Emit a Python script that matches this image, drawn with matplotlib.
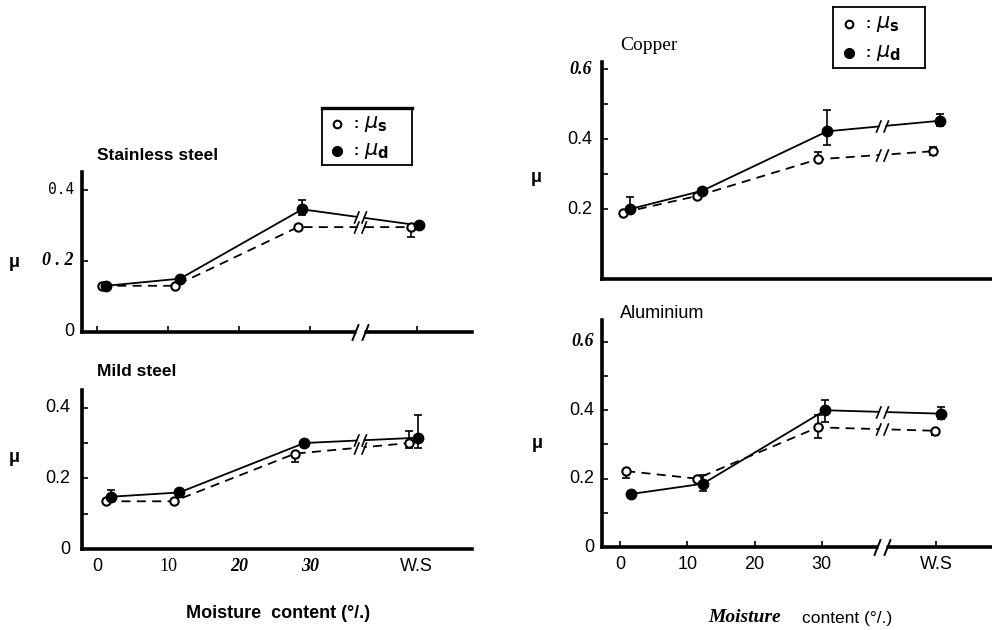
import numpy as np
import matplotlib
matplotlib.use("Agg")
import matplotlib.pyplot as plt
from matplotlib.path import Path

# ---------------- data ----------------
# Stainless steel  (W.S column drawn at x = 45)
ss_x_s  = [0.7, 11.0, 28.3, 44.2]
ss_mu_s = [0.130, 0.130, 0.295, 0.295]
ss_s_lo = [0, 0, 0, 0.028]
ss_s_hi = [0, 0, 0, 0]
ss_x_d  = [1.3, 11.7, 28.9, 45.3]
ss_mu_d = [0.130, 0.150, 0.345, 0.300]
ss_d_lo = [0, 0, 0.015, 0]
ss_d_hi = [0, 0, 0.025, 0]

# Mild steel  (W.S column at x = 45)
ms_x_s  = [1.3, 10.8, 27.9, 44.0]
ms_mu_s = [0.135, 0.135, 0.270, 0.300]
ms_s_lo = [0, 0, 0.023, 0.015]
ms_s_hi = [0, 0, 0, 0.035]
ms_x_d  = [2.0, 11.6, 29.2, 45.2]
ms_mu_d = [0.148, 0.160, 0.300, 0.315]
ms_d_lo = [0.010, 0, 0, 0.030]
ms_d_hi = [0.020, 0, 0, 0.065]

# Copper  (W.S column at x = 47)
cu_x_s  = [0.4, 11.4, 29.4, 46.5]
cu_mu_s = [0.190, 0.237, 0.342, 0.365]
cu_s_lo = [0, 0, 0, 0.010]
cu_s_hi = [0, 0, 0.022, 0.012]
cu_x_d  = [1.5, 12.2, 30.8, 47.5]
cu_mu_d = [0.200, 0.252, 0.422, 0.452]
cu_d_lo = [0, 0, 0.040, 0.015]
cu_d_hi = [0.035, 0, 0.060, 0.020]

# Aluminium  (W.S column at x = 47)
al_x_s  = [0.9, 11.4, 29.4, 46.8]
al_mu_s = [0.222, 0.200, 0.350, 0.340]
al_s_lo = [0.020, 0, 0.032, 0.012]
al_s_hi = [0, 0, 0.035, 0]
al_x_d  = [1.6, 12.3, 30.5, 47.7]
al_mu_d = [0.155, 0.185, 0.400, 0.390]
al_d_lo = [0, 0.022, 0.035, 0.015]
al_d_hi = [0, 0.025, 0.030, 0.020]

x_ticks_left  = [0, 10, 20, 30, 45]
x_ticks_right = [0, 10, 20, 30, 47]
x_ticklabels  = ["0", "10", "20", "30", "W.S"]

# ---------------- layout helpers ----------------
W, H = 992, 630
fig = plt.figure(figsize=(W / 100, H / 100), dpi=100)
fig.patch.set_facecolor("white")
plt.rcParams["mathtext.fontset"] = "dejavusans"

def rect(l, t, r, b):
    return [l / W, 1 - b / H, (r - l) / W, (b - t) / H]

SANS = dict(family="Liberation Sans")
SANS_B = dict(family="Liberation Sans", weight="bold")
SERIF = dict(family="Liberation Serif")
SERIF_BI = dict(family="Liberation Serif", style="italic", weight="bold")
MONO = dict(family="DejaVu Sans Mono")

BREAK = Path([(-1.0, -1.0), (-0.2, 1.0), (0.2, -1.0), (1.0, 1.0)],
             [Path.MOVETO, Path.LINETO, Path.MOVETO, Path.LINETO])

def style_axes(ax, xlim, ylim):
    ax.set_xlim(*xlim)
    ax.set_ylim(*ylim)
    for s in ("top", "right"):
        ax.spines[s].set_visible(False)
    for s in ("left", "bottom"):
        ax.spines[s].set_linewidth(2.6)
    ax.set_facecolor("none")
    ax.tick_params(which="both", direction="in", length=4, width=1.2,
                   labelleft=False, labelbottom=False)

def brk(ax, xb, xs, ys):
    yb = np.interp(xb, xs, ys)
    ax.plot([xb], [yb], marker="s", ms=5, mfc="white", mec="none", zorder=4)
    ax.plot([xb], [yb], marker=BREAK, ms=9, mec="black", mew=1.2, zorder=5)

def axis_break(ax, xb):
    ax.plot([xb], [0], marker="s", ms=6, mfc="white", mec="none",
            zorder=6, clip_on=False)
    ax.plot([xb], [0], marker=BREAK, ms=12, mec="black", mew=1.4,
            zorder=7, clip_on=False)

def series(ax, xs, ys, lo, hi, x_break, filled):
    ls = "-" if filled else (0, (5, 3.5))
    ax.plot(xs, ys, color="black", lw=1.3, ls=ls, zorder=2)
    lo = np.array(lo, float)
    hi = np.array(hi, float)
    m = (lo + hi) > 0
    ax.errorbar(np.array(xs)[m], np.array(ys)[m], yerr=[lo[m], hi[m]],
                fmt="none", ecolor="black", elinewidth=1.2, capsize=3,
                capthick=1.2, zorder=3)
    if filled:
        ax.plot(xs, ys, "o", ms=7.5, mfc="black", mec="black", zorder=6)
    else:
        ax.plot(xs, ys, "o", ms=6, mfc="white", mec="black", mew=1.5, zorder=6)
    if x_break is not None:
        brk(ax, x_break, xs, ys)

def ytext(ax, vals, labels, fonts, xpx, size=13, sizes=None):
    for i, (v, lab, f) in enumerate(zip(vals, labels, fonts)):
        fs = sizes[i] if sizes else size
        ax.annotate(lab, xy=(0, v), xycoords=ax.get_yaxis_transform(),
                    xytext=(-xpx, 0), textcoords="offset pixels",
                    ha="right", va="center", fontsize=fs, **f)

def xtext(ax, vals, labels, fonts, ypx, size=13):
    for v, lab, f in zip(vals, labels, fonts):
        ax.annotate(lab, xy=(v, 0), xycoords=ax.get_xaxis_transform(),
                    xytext=(0, -ypx), textcoords="offset pixels",
                    ha="center", va="top", fontsize=size, **f)

def legend_box(l, t, r, b, thick_top=False):
    lax = fig.add_axes(rect(l, t, r, b))
    lax.set_xlim(0, 1)
    lax.set_ylim(0, 1)
    lax.set_xticks([])
    lax.set_yticks([])
    for s in lax.spines.values():
        s.set_linewidth(1.3)
    if thick_top:
        lax.spines["top"].set_linewidth(2.4)
    lax.plot([0.17], [0.72], "o", ms=5.5, mfc="white", mec="black", mew=1.5)
    lax.plot([0.17], [0.25], "o", ms=7, mfc="black", mec="black")
    lax.text(0.38, 0.72, ":", ha="center", va="center", fontsize=11, **SANS_B)
    lax.text(0.38, 0.25, ":", ha="center", va="center", fontsize=11, **SANS_B)
    lax.text(0.47, 0.72, r"$\mu_{\mathbf{s}}$", ha="left", va="center", fontsize=15)
    lax.text(0.47, 0.25, r"$\mu_{\mathbf{d}}$", ha="left", va="center", fontsize=15)

# ---------------- Stainless steel ----------------
ax1 = fig.add_axes(rect(82, 172, 472, 332))
style_axes(ax1, (-2.1, 52.8), (0, 0.45))
ax1.set_xticks(x_ticks_left)
ax1.set_yticks([0, 0.2, 0.4])
series(ax1, ss_x_s, ss_mu_s, ss_s_lo, ss_s_hi, 37, False)
series(ax1, ss_x_d, ss_mu_d, ss_d_lo, ss_d_hi, 37, True)
axis_break(ax1, 37)
ytext(ax1, [0, 0.2, 0.4], ["0", "0 . 2", "0.4"], [SANS, SERIF_BI, MONO], 8,
      sizes=[13, 13, 10.5])
fig.text(97 / W, 1 - 155 / H, "Stainless steel", ha="left", va="center",
         fontsize=12.5, **SANS_B)
fig.text(14 / W, 1 - 262 / H, "μ", ha="center", va="center", fontsize=13, **SANS_B)

# ---------------- Mild steel ----------------
ax2 = fig.add_axes(rect(82, 390, 472, 549))
style_axes(ax2, (-2.1, 52.8), (0, 0.45))
ax2.set_xticks([])
ax2.set_yticks([0, 0.2, 0.4])
ax2.set_yticks([0.1, 0.3], minor=True)
series(ax2, ms_x_s, ms_mu_s, ms_s_lo, ms_s_hi, 37, False)
series(ax2, ms_x_d, ms_mu_d, ms_d_lo, ms_d_hi, 37, True)
ytext(ax2, [0, 0.2, 0.4], ["0", "0.2", "0.4"], [SANS, SANS, SANS], 12)
xtext(ax2, x_ticks_left, x_ticklabels, [SANS, SERIF, SERIF_BI, SERIF_BI, SANS], 9)
fig.text(97 / W, 1 - 372 / H, "Mild steel", ha="left", va="center",
         fontsize=12.5, **SANS_B)
fig.text(14 / W, 1 - 457 / H, "μ", ha="center", va="center", fontsize=13, **SANS_B)
fig.text(278 / W, 1 - 614 / H, "Moisture  content (°/.)", ha="center",
         va="center", fontsize=13, **SANS_B)
legend_box(322, 108, 412, 165, thick_top=True)

# ---------------- Copper ----------------
ax3 = fig.add_axes(rect(602, 62, 992, 279))
style_axes(ax3, (-2.7, 55.3), (0, 0.62))
ax3.set_xticks([])
ax3.set_yticks([0.2, 0.4, 0.6])
ax3.set_yticks([0.3, 0.5], minor=True)
series(ax3, cu_x_s, cu_mu_s, cu_s_lo, cu_s_hi, 39, False)
series(ax3, cu_x_d, cu_mu_d, cu_d_lo, cu_d_hi, 39, True)
ytext(ax3, [0.2, 0.4, 0.6], ["0.2", "0.4", "0.6"], [SANS, SANS, SERIF_BI], 10)
fig.text(620 / W, 1 - 46 / H, "Copper", ha="left", va="center", fontsize=14, **SERIF)
fig.text(536 / W, 1 - 177 / H, "μ", ha="center", va="center", fontsize=13, **SANS_B)
legend_box(833, 7, 925, 68)

# ---------------- Aluminium ----------------
ax4 = fig.add_axes(rect(602, 320, 992, 547))
style_axes(ax4, (-2.7, 55.3), (0, 0.664))
ax4.set_xticks(x_ticks_right)
ax4.set_yticks([0, 0.2, 0.4, 0.6])
ax4.set_yticks([0.1, 0.3, 0.5], minor=True)
series(ax4, al_x_s, al_mu_s, al_s_lo, al_s_hi, 39, False)
series(ax4, al_x_d, al_mu_d, al_d_lo, al_d_hi, 39, True)
axis_break(ax4, 39)
ytext(ax4, [0, 0.2, 0.4, 0.6], ["0", "0.2", "0.4", "0.6"],
      [SANS, SANS, SANS, SERIF_BI], 8)
xtext(ax4, x_ticks_right, x_ticklabels, [SANS] * 5, 9)
fig.text(620 / W, 1 - 314 / H, "Aluminium", ha="left", va="center",
         fontsize=13, **SANS)
fig.text(537 / W, 1 - 443 / H, "μ", ha="center", va="center", fontsize=13, **SANS_B)
fig.text(745 / W, 1 - 618 / H, "Moisture", ha="center", va="center",
         fontsize=14, **SERIF_BI)
fig.text(847 / W, 1 - 618 / H, "content (°/.)", ha="center", va="center",
         fontsize=12.5, **SANS)

fig.savefig("out.png", dpi=100, facecolor="white")
